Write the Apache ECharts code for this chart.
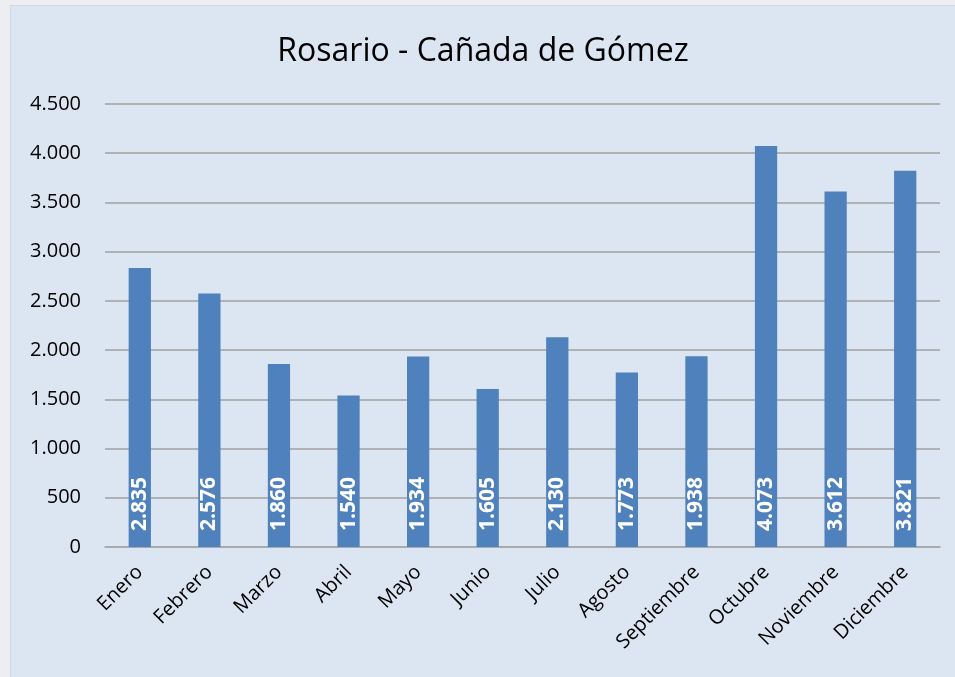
<!DOCTYPE html>
<html lang="es">
<head>
  <meta charset="utf-8">
  <title>Rosario - Cañada de Gómez</title>
  <script src="https://cdn.jsdelivr.net/npm/echarts@6/dist/echarts.min.js"></script>
  <style>
    html, body { margin: 0; padding: 0; width: 955px; height: 677px; background: #eceef2; overflow: hidden; }
    #main { position: absolute; left: 10px; top: 5px; width: 945px; height: 672px;
            background: #dce6f2; border-left: 1px solid #d3d8df; border-top: 1px solid #d3d8df; box-sizing: border-box; }
  </style>
</head>
<body>
  <div id="main"></div>
  <script>
    var meses = ['Enero', 'Febrero', 'Marzo', 'Abril', 'Mayo', 'Junio', 'Julio',
                 'Agosto', 'Septiembre', 'Octubre', 'Noviembre', 'Diciembre'];
    var pasajeros = [2835, 2576, 1860, 1540, 1934, 1605, 2130, 1773, 1938, 4073, 3612, 3821];

    // separador de miles con punto
    function miles(v) {
      return String(v).replace(/\B(?=(\d{3})+(?!\d))/g, '.');
    }

    var chart = echarts.init(document.getElementById('main'));
    chart.setOption({
      animation: false,
      textStyle: { fontFamily: 'Open Sans' },
      title: {
        text: 'Rosario - Cañada de Gómez',
        left: 'center',
        top: 25,
        textStyle: { fontSize: 32, fontWeight: 'normal', color: '#000', fontFamily: 'Open Sans' }
      },
      grid: { left: 94, right: 15, top: 98, bottom: 130 },
      xAxis: {
        type: 'category',
        data: meses,
        axisTick: { show: false },
        axisLine: { lineStyle: { color: '#a6a6a6', width: 1.5 } },
        axisLabel: { rotate: 45, margin: 22, fontSize: 20, color: '#000' }
      },
      yAxis: {
        type: 'value',
        min: 0,
        max: 4500,
        interval: 500,
        axisLabel: { fontSize: 20, color: '#000', margin: 24, formatter: miles },
        splitLine: { lineStyle: { color: '#a0a0a0', width: 1.5 } }
      },
      series: [{
        type: 'bar',
        data: pasajeros,
        barWidth: '32%',
        itemStyle: { color: '#4f81bd' },
        label: {
          show: true,
          position: 'insideBottom',
          rotate: 90,
          align: 'left',
          verticalAlign: 'middle',
          distance: 16,
          color: '#fff',
          fontSize: 21,
          fontWeight: 'bold',
          formatter: function (p) { return miles(p.value); }
        }
      }]
    });
  </script>
</body>
</html>
